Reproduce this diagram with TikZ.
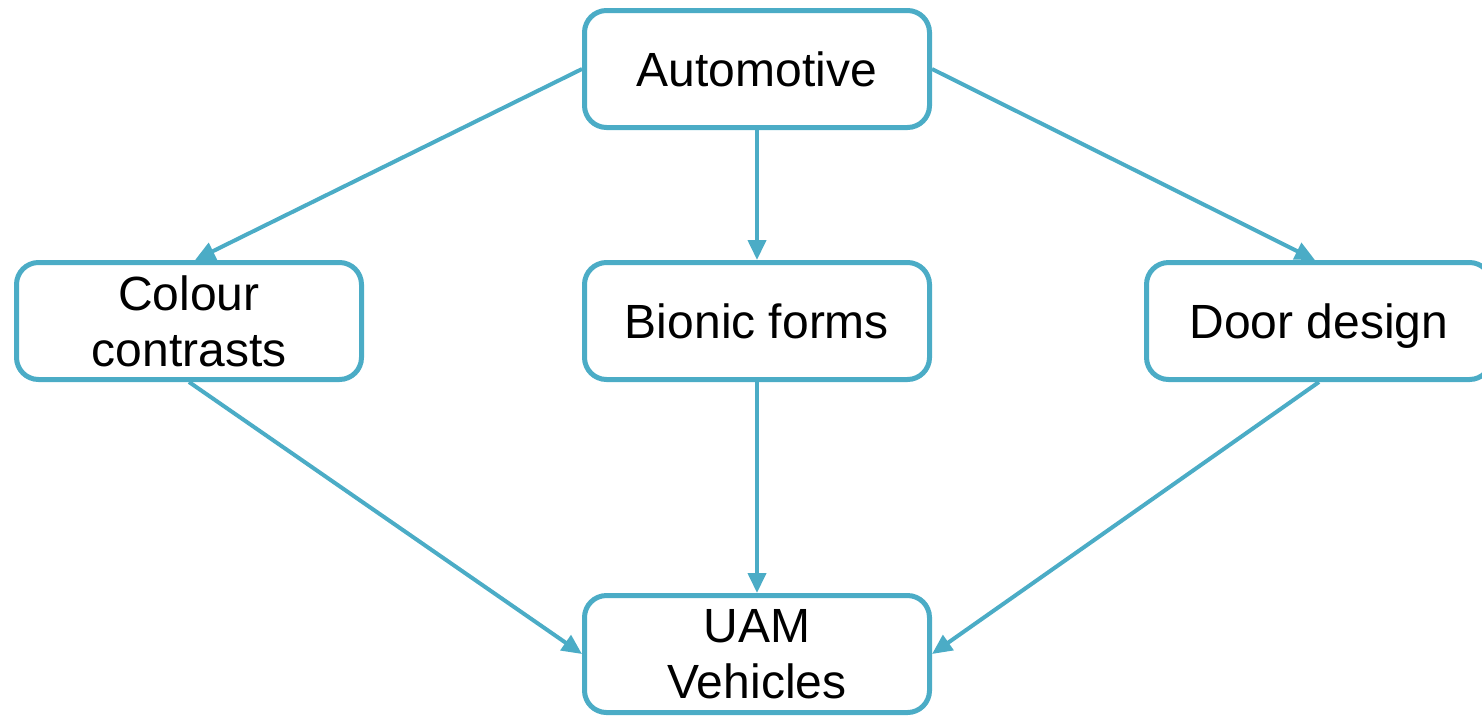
\documentclass[tikz,border=0pt]{standalone}
\usepackage{fontspec}
\setmainfont{Liberation Sans}
\usetikzlibrary{arrows.meta}
\definecolor{linkblue}{HTML}{4BACC6}
\tikzset{
  topic/.style={draw=linkblue, line width=5pt, rounded corners=22pt, fill=white,
    minimum width=345pt, minimum height=117pt, inner sep=0pt, align=center,
    font=\fontsize{48}{56}\selectfont},
  link/.style={draw=linkblue, line width=4pt, -{Triangle[length=20pt,width=18pt]}}
}
\begin{document}
\begin{tikzpicture}[x=1pt, y=-1pt]
  \useasboundingbox (0,0) rectangle (1482,716);
  \node[topic] (auto) at (757,69) {Automotive};
  \node[topic] (colour) at (189,321) {Colour\\contrasts};
  \node[topic] (bionic) at (757,321) {Bionic forms};
  \node[topic, text depth=0pt] (door) at (1319,321) {Door design};
  \node[topic] (uam) at (757,654) {UAM\\Vehicles};
  \draw[link] (auto.west) -- ([xshift=6pt]colour.north);
  \draw[link] (auto.south) -- (bionic.north);
  \draw[link] (auto.east) -- ([xshift=-4pt]door.north);
  \draw[link] (colour.south) -- (uam.west);
  \draw[link] (bionic.south) -- (uam.north);
  \draw[link] (door.south) -- (uam.east);
\end{tikzpicture}
\end{document}
